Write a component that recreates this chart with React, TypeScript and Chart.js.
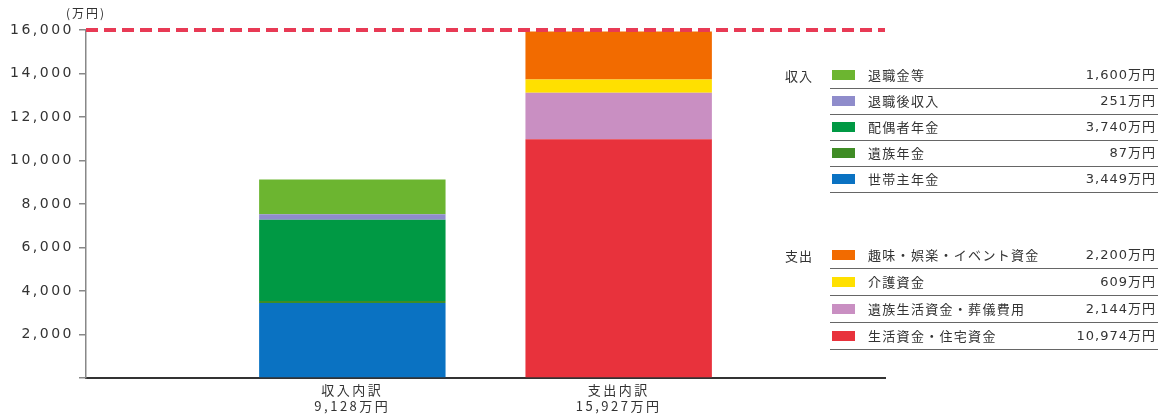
import React, { useEffect, useRef } from 'react';
import { Chart, registerables } from 'chart.js';

Chart.register(...registerables);

// ---- data ----
const categories = ['', '収入内訳', '支出内訳', ''];
const categoryTotals = ['', '9,128万円', '15,927万円', ''];

const incomeNames = ['世帯主年金', '遺族年金', '配偶者年金', '退職後収入', '退職金等'];
const incomeValues = [3449, 87, 3740, 251, 1600];
const incomeColors = ['#0a72c2', '#3f8c25', '#009944', '#8f8ccb', '#6cb530'];

const expenseNames = ['生活資金・住宅資金', '遺族生活資金・葬儀費用', '介護資金', '趣味・娯楽・イベント資金'];
const expenseValues = [10974, 2144, 609, 2200];
const expenseColors = ['#e8323c', '#c98fc2', '#ffe000', '#f26b00'];

const yTickValues = [0, 2000, 4000, 6000, 8000, 10000, 12000, 14000, 16000];
const targetValue = 16000;
const unitLabel = '(万円)';

const fmt = (v: number) => v.toLocaleString('en-US') + '万円';

const targetLinePlugin = {
  id: 'targetLine',
  beforeDraw(chart: any) {
    chart.ctx.letterSpacing = '2.5px';
  },
  beforeDatasetsDraw(chart: any) {
    chart.ctx.letterSpacing = '0px';
  },
  afterDatasetsDraw(chart: any) {
    const { ctx, chartArea, scales } = chart;
    const y = scales.y.getPixelForValue(targetValue);
    ctx.save();
    ctx.setLineDash([12, 6]);
    ctx.strokeStyle = '#e83a55';
    ctx.lineWidth = 4;
    ctx.beginPath();
    ctx.moveTo(chartArea.left, y);
    ctx.lineTo(chartArea.right, y);
    ctx.stroke();
    ctx.restore();
  },
};

function LegendGroup({ title, names, values, colors, top, rowH }: any) {
  const idx = names.map((_: any, i: number) => i).reverse();
  return (
    <div style={{ position: 'absolute', left: 0, top, width: 1170 }}>
      <div
        style={{
          position: 'absolute',
          left: 785,
          top: 0,
          height: rowH,
          lineHeight: rowH + 'px',
          fontSize: 13,
          letterSpacing: '1px',
          color: '#333',
        }}
      >
        {title}
      </div>
      {idx.map((i: number, r: number) => (
        <div
          key={i}
          style={{
            position: 'absolute',
            left: 830,
            top: r * rowH,
            width: 328,
            height: rowH - 1.5,
            borderBottom: '1.5px solid #666',
          }}
        >
          <div
            style={{
              position: 'absolute',
              left: 2,
              top: (rowH - 1.5) / 2 - 5,
              width: 23,
              height: 10,
              background: colors[i],
            }}
          />
          <div
            style={{
              position: 'absolute',
              left: 38,
              top: 0,
              lineHeight: rowH - 1.5 + 'px',
              fontSize: 13,
              letterSpacing: '1.3px',
              color: '#333',
              whiteSpace: 'nowrap',
            }}
          >
            {names[i]}
          </div>
          <div
            style={{
              position: 'absolute',
              right: 2,
              top: 0,
              lineHeight: rowH - 1.5 + 'px',
              fontSize: 13,
              letterSpacing: '1px',
              color: '#333',
              fontFamily: '"DejaVu Sans", "Noto Sans CJK JP", sans-serif',
              whiteSpace: 'nowrap',
            }}
          >
            {fmt(values[i])}
          </div>
        </div>
      ))}
    </div>
  );
}

export default function App() {
  const canvasRef = useRef<HTMLCanvasElement | null>(null);

  useEffect(() => {
    if (!canvasRef.current) return;
    const datasets: any[] = [];
    incomeValues.forEach((v, i) => {
      datasets.push({
        label: incomeNames[i],
        data: [null, v, null, null],
        backgroundColor: incomeColors[i],
        stack: 's',
        barPercentage: 0.7,
        categoryPercentage: 1,
      });
    });
    expenseValues.forEach((v, i) => {
      datasets.push({
        label: expenseNames[i],
        data: [null, null, v, null],
        backgroundColor: expenseColors[i],
        stack: 's',
        barPercentage: 0.7,
        categoryPercentage: 1,
      });
    });

    const chart = new Chart(canvasRef.current, {
      type: 'bar',
      data: {
        labels: categories.map((c, i) => (c ? [c, categoryTotals[i]] : '')),
        datasets,
      },
      options: {
        animation: false,
        responsive: false,
        layout: { padding: { left: 0, right: 285, top: 30, bottom: 0 } },
        plugins: { legend: { display: false }, tooltip: { enabled: false } },
        scales: {
          x: {
            stacked: true,
            offset: false,
            grid: { display: false, drawTicks: false },
            border: { display: true, color: '#333', width: 2 },
            ticks: {
              autoSkip: false,
              maxRotation: 0,
              padding: 4,
              color: '#333',
              font: { family: '"Noto Sans CJK JP", sans-serif', size: 13, lineHeight: 1.25 },
            },
            afterFit(scale: any) {
              scale.height = 36;
            },
          },
          y: {
            stacked: true,
            min: 0,
            max: 16000,
            grid: { drawOnChartArea: false, drawTicks: true, tickLength: 7, color: '#888', lineWidth: 1.5 },
            border: { display: true, color: '#888', width: 1.5 },
            ticks: {
              padding: 5,
              color: '#333',
              font: { family: '"DejaVu Sans", sans-serif', size: 14 },
              callback: (v: any) => (v === 0 ? '' : Number(v).toLocaleString('en-US')),
            },
            afterBuildTicks(scale: any) {
              scale.ticks = yTickValues.map((v) => ({ value: v }));
            },
            afterFit(scale: any) {
              scale.width = 86;
            },
          },
        },
      },
      plugins: [targetLinePlugin],
    });
    return () => chart.destroy();
  }, []);

  return (
    <div
      style={{
        position: 'fixed',
        left: 0,
        top: 0,
        width: 1170,
        height: 414,
        background: '#fff',
        fontFamily: '"Noto Sans CJK JP", sans-serif',
      }}
    >
      <canvas ref={canvasRef} width={1170} height={414} style={{ position: 'absolute', left: 0, top: 0 }} />
      <div
        style={{
          position: 'absolute',
          left: 66,
          top: 4,
          fontSize: 12,
          letterSpacing: '2px',
          color: '#333',
          lineHeight: '18px',
        }}
      >
        {unitLabel}
      </div>
      <LegendGroup title="収入" names={incomeNames} values={incomeValues} colors={incomeColors} top={63} rowH={26} />
      <LegendGroup title="支出" names={expenseNames} values={expenseValues} colors={expenseColors} top={242} rowH={27} />
    </div>
  );
}
